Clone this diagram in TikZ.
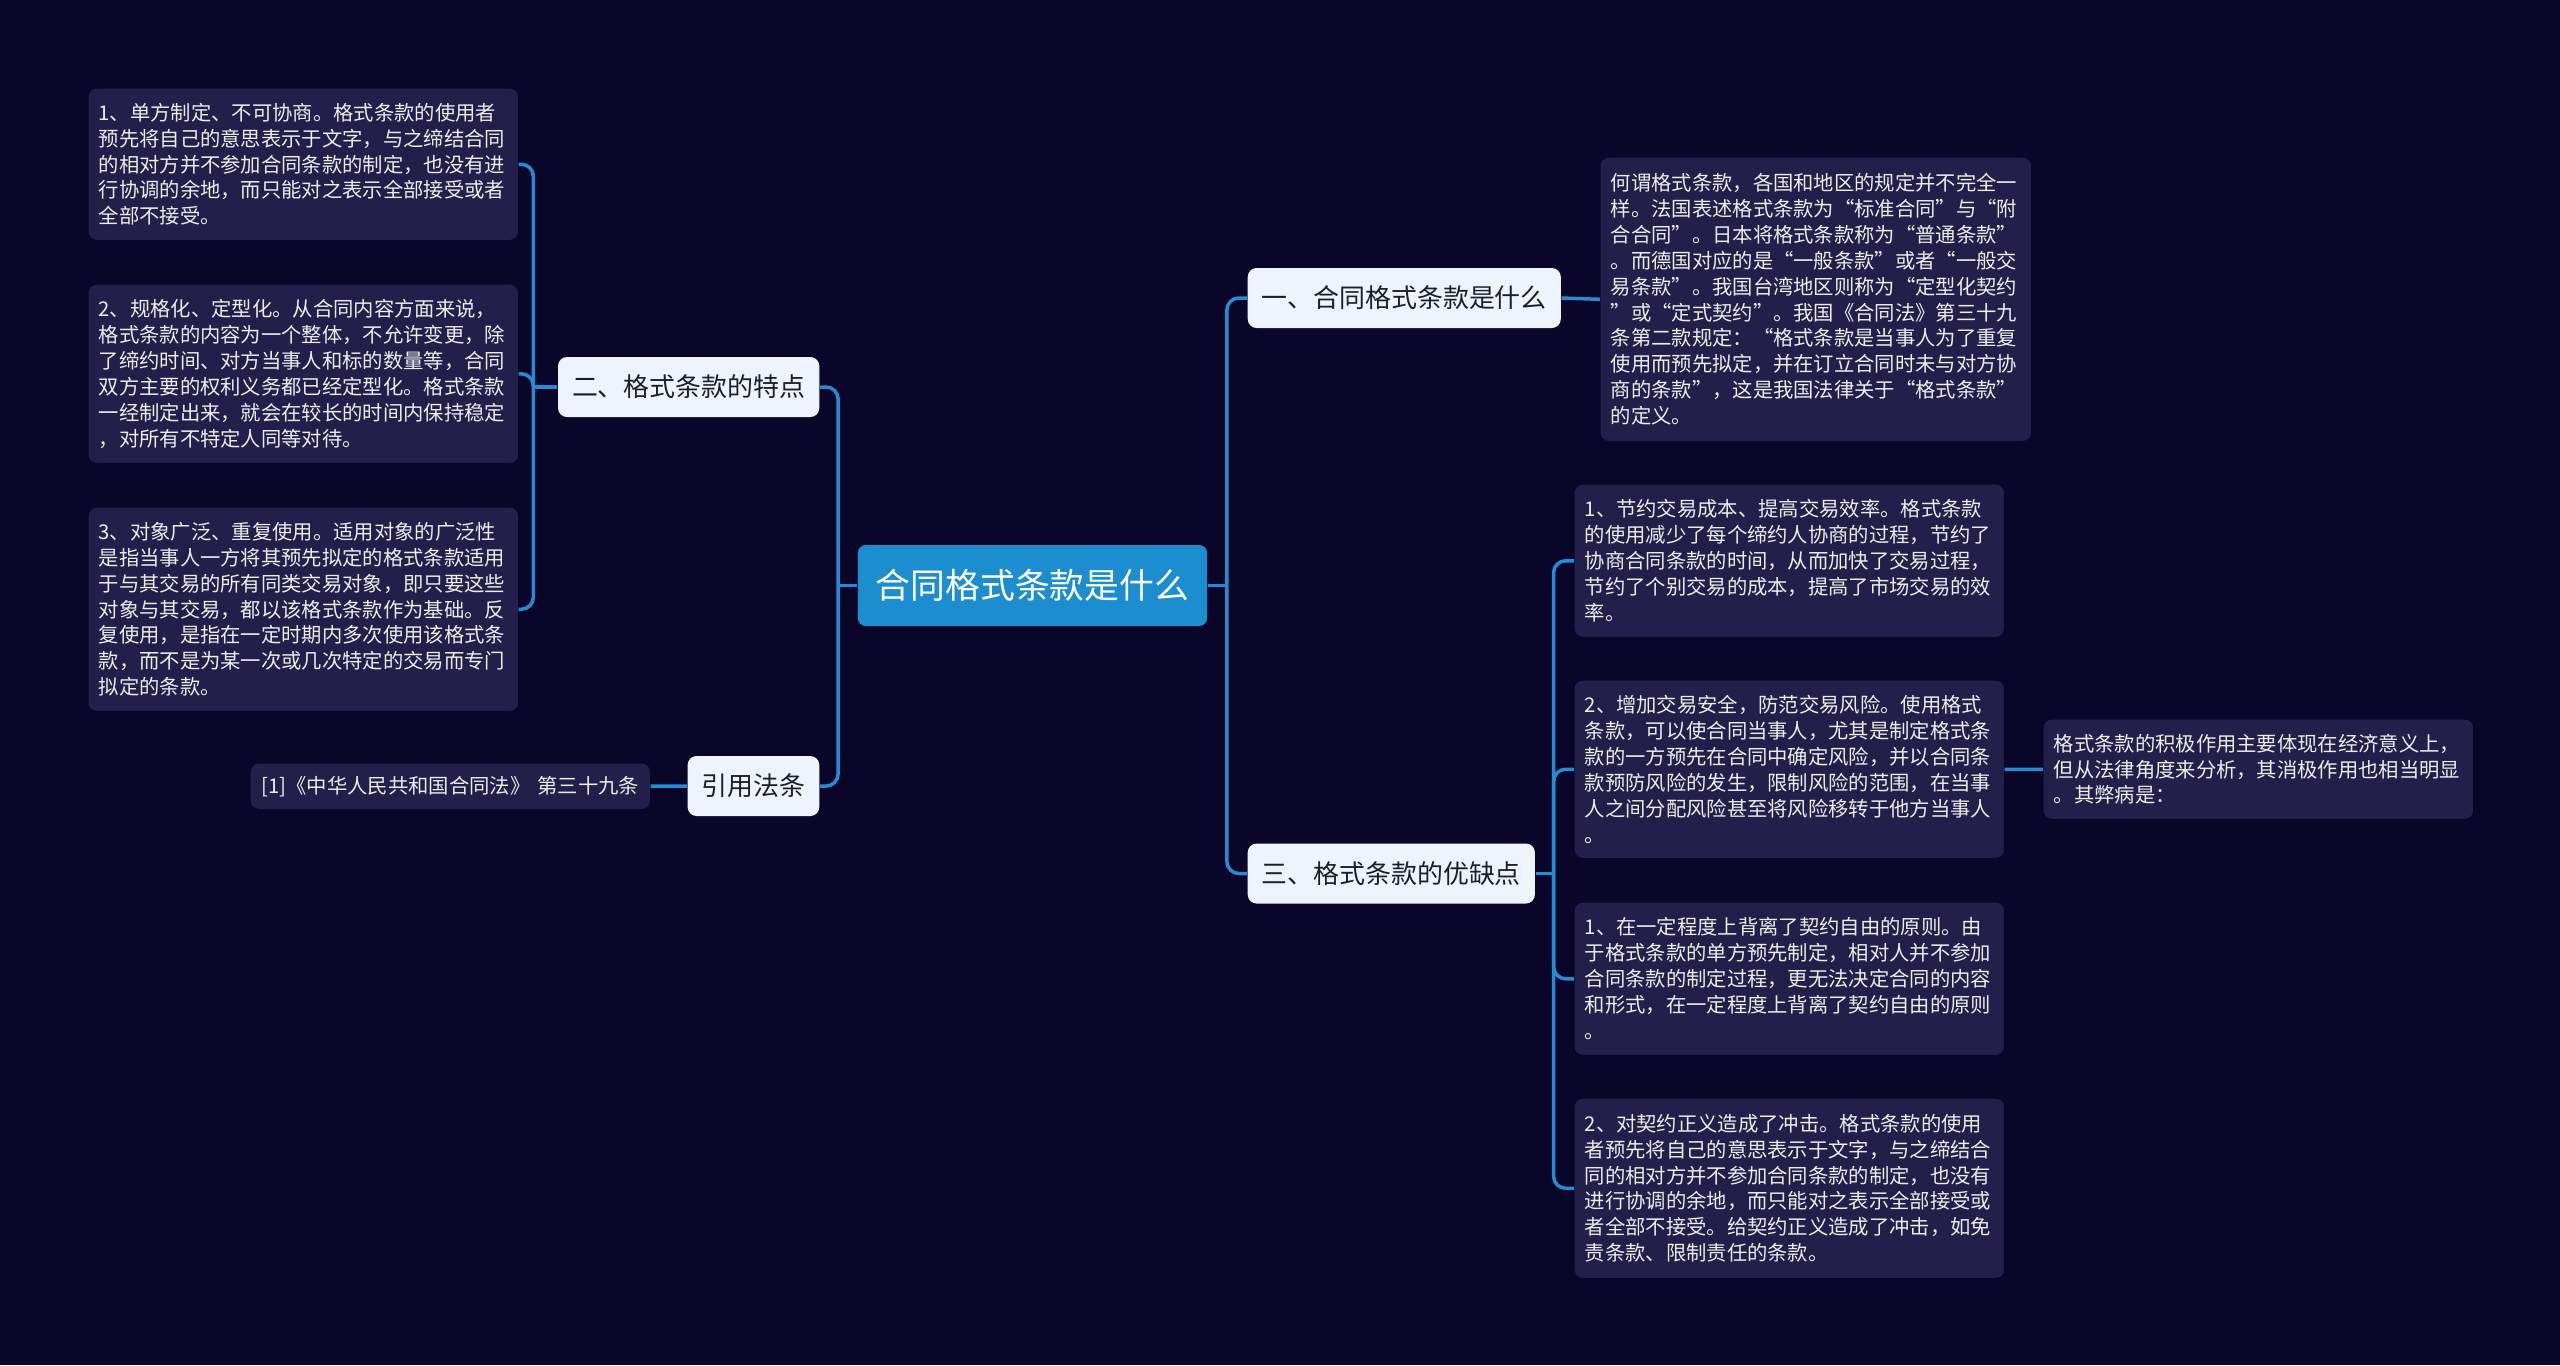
\documentclass[tikz,border=0pt]{standalone}
\usepackage{fontspec}
\setmainfont{Noto Sans CJK SC}
\usetikzlibrary{positioning}

\definecolor{bgnavy}{RGB}{10,6,42}
\definecolor{leafbg}{RGB}{34,31,74}
\definecolor{linkblue}{RGB}{38,139,210}
\definecolor{rootblue}{RGB}{28,142,208}
\definecolor{branchbg}{RGB}{238,244,252}
\definecolor{branchtxt}{RGB}{30,30,40}

\tikzset{
  root/.style={fill=rootblue, text=white, rounded corners=0.08cm, minimum height=0.81cm,
    inner xsep=0.18cm, inner ysep=0pt, font=\fontsize{9.9pt}{12pt}\selectfont},
  branch/.style={fill=branchbg, text=branchtxt, rounded corners=0.09cm, minimum height=0.6cm,
    inner xsep=0.14cm, inner ysep=0pt, font=\fontsize{7.37pt}{9pt}\selectfont},
  leaf/.style={fill=leafbg, text=white!93!black, rounded corners=0.08cm, anchor=north west,
    align=left, text width=4.09cm, inner xsep=0.1cm, inner ysep=0pt,
    font=\fontsize{5.78pt}{7.37pt}\selectfont},
  link/.style={draw=linkblue, line width=0.035cm, rounded corners=0.12cm},
}

\begin{document}
\begin{tikzpicture}[x=0.01cm, y=-0.01cm]
% canvas
\fill[bgnavy] (0,0) rectangle (2560,1365);
\useasboundingbox (0,0) rectangle (2560,1365);

% root and main branches
\node[root] (root) at (1032.5,585.5) {合同格式条款是什么};
\node[branch, anchor=west] (b1) at (1247,298) {一、合同格式条款是什么};
\node[branch, anchor=west] (b3) at (1247,873.5) {三、格式条款的优缺点};
\node[branch, anchor=east] (b2) at (820,387) {二、格式条款的特点};
\node[branch, anchor=east] (b4) at (820,786) {引用法条};

% left leaves
\node[leaf, minimum height=1.51cm] (l1) at (88,88) {1、单方制定、不可协商。格式条款的使用者\\预先将自己的意思表示于文字，与之缔结合同\\的相对方并不参加合同条款的制定，也没有进\\行协调的余地，而只能对之表示全部接受或者\\全部不接受。};
\node[leaf, minimum height=1.78cm] (l2) at (88,284) {2、规格化、定型化。从合同内容方面来说，\\格式条款的内容为一个整体，不允许变更，除\\了缔约时间、对方当事人和标的数量等，合同\\双方主要的权利义务都已经定型化。格式条款\\一经制定出来，就会在较长的时间内保持稳定\\，对所有不特定人同等对待。};
\node[leaf, minimum height=2.03cm] (l3) at (88,507) {3、对象广泛、重复使用。适用对象的广泛性\\是指当事人一方将其预先拟定的格式条款适用\\于与其交易的所有同类交易对象，即只要这些\\对象与其交易，都以该格式条款作为基础。反\\复使用，是指在一定时期内多次使用该格式条\\款，而不是为某一次或几次特定的交易而专门\\拟定的条款。};
\node[leaf, text width=3.79cm, align=center, minimum height=0.45cm] (cite) at (250,763) {[1]《中华人民共和国合同法》 第三十九条};

% right leaves
\node[leaf, text width=4.1cm, minimum height=2.83cm] (def) at (1600,157) {何谓格式条款，各国和地区的规定并不完全一\\样。法国表述格式条款为“标准合同”与“附\\合合同”。日本将格式条款称为“普通条款”\\。而德国对应的是“一般条款”或者“一般交\\易条款”。我国台湾地区则称为“定型化契约\\”或“定式契约”。我国《合同法》第三十九\\条第二款规定：“格式条款是当事人为了重复\\使用而预先拟定，并在订立合同时未与对方协\\商的条款”，这是我国法律关于“格式条款”\\的定义。};
\node[leaf, minimum height=1.52cm] (r1) at (1574,484) {1、节约交易成本、提高交易效率。格式条款\\的使用减少了每个缔约人协商的过程，节约了\\协商合同条款的时间，从而加快了交易过程，\\节约了个别交易的成本，提高了市场交易的效\\率。};
\node[leaf, minimum height=1.77cm] (r2) at (1574,680) {2、增加交易安全，防范交易风险。使用格式\\条款，可以使合同当事人，尤其是制定格式条\\款的一方预先在合同中确定风险，并以合同条\\款预防风险的发生，限制风险的范围，在当事\\人之间分配风险甚至将风险移转于他方当事人\\。};
\node[leaf, minimum height=1.52cm] (r3) at (1574,902) {1、在一定程度上背离了契约自由的原则。由\\于格式条款的单方预先制定，相对人并不参加\\合同条款的制定过程，更无法决定合同的内容\\和形式，在一定程度上背离了契约自由的原则\\。};
\node[leaf, minimum height=1.79cm] (r4) at (1574,1098) {2、对契约正义造成了冲击。格式条款的使用\\者预先将自己的意思表示于文字，与之缔结合\\同的相对方并不参加合同条款的制定，也没有\\进行协调的余地，而只能对之表示全部接受或\\者全部不接受。给契约正义造成了冲击，如免\\责条款、限制责任的条款。};
\node[leaf, minimum height=0.99cm] (far) at (2043,719) {格式条款的积极作用主要体现在经济意义上，\\但从法律角度来分析，其消极作用也相当明显\\。其弊病是：};

% connectors from root
\draw[link] (root.east) -- ++(19,0);
\foreach \n in {b1,b3} \draw[link] (root.east) ++(19,0) |- (\n.west);
\draw[link] (root.west) -- ++(-19,0);
\foreach \n in {b2,b4} \draw[link] (root.west) ++(-19,0) |- (\n.east);

% left side
\draw[link] (b2.west) -- ++(-24,0);
\foreach \n in {l1,l2,l3} \draw[link] (b2.west) ++(-24,0) |- (\n.east);
\draw[link] (b4.west) -- (cite.east);

% right side
\draw[link] (b1.east) -- (def.west);
\draw[link] (b3.east) -- ++(18,0);
\foreach \n in {r1,r2,r3,r4} \draw[link] (b3.east) ++(18,0) |- (\n.west);
\draw[link] (r2.east) -- (far.west);
\end{tikzpicture}
\end{document}
